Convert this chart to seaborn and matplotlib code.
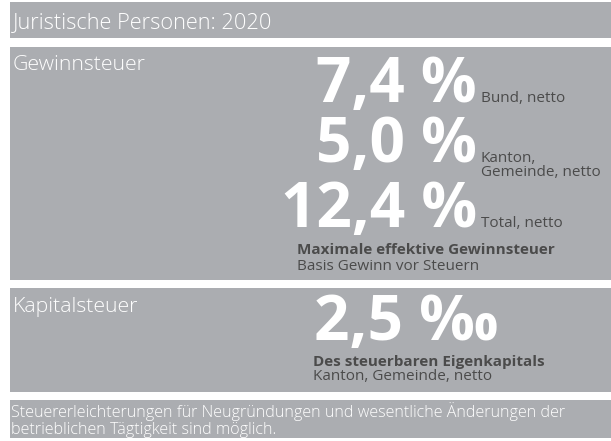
import matplotlib
matplotlib.use("Agg")
import matplotlib.pyplot as plt
from matplotlib.patches import Rectangle
import seaborn as sns

# ---- data ----
title = "Juristische Personen: 2020"
section_names = ["Gewinnsteuer", "Kapitalsteuer"]
profit_values = [7.4, 5.0, 12.4]
profit_labels = ["Bund, netto", "Kanton,\nGemeinde, netto", "Total, netto"]
profit_note_bold = "Maximale effektive Gewinnsteuer"
profit_note = "Basis Gewinn vor Steuern"
capital_value = 2.5
capital_unit = "‰"
capital_note_bold = "Des steuerbaren Eigenkapitals"
capital_note = "Kanton, Gemeinde, netto"
footer = ("Steuererleichterungen für Neugründungen und wesentliche Änderungen der\n"
          "betrieblichen Tägtigkeit sind möglich.")

sns.set_theme(style="white")
plt.rcParams['font.family'] = ['Open Sans', 'DejaVu Sans']

GREY = "#abadb1"
DARK = "#4b4b4b"
W, H = 611, 441

fig = plt.figure(figsize=(W / 100, H / 100), dpi=100)
fig.patch.set_facecolor("white")
ax = fig.add_axes([0, 0, 1, 1])
ax.set_xlim(0, W)
ax.set_ylim(H, 0)
ax.axis("off")

def px(p):
    return p * 0.72

panels = [(2, 38), (47, 280), (288, 392), (400, 438)]
for y0, y1 in panels:
    ax.add_patch(Rectangle((10, y0), W - 10, y1 - y0, facecolor=GREY, edgecolor="none"))

def fmt(v):
    return f"{v:.1f}".replace(".", ",")

SMALL = 15.2
BIG = 62

# title
ax.text(13, 28, title, color="white", fontsize=px(21.8), va="baseline", ha="left",
        fontweight="light")

# Gewinnsteuer
ax.text(13, 70, section_names[0], color="white", fontsize=px(21.3), va="baseline", ha="left",
        fontweight="light")
baselines = [102, 162, 227]
label_baselines = [102, 162, 227]
for v, lab, b, lb in zip(profit_values, profit_labels, baselines, label_baselines):
    ax.text(477, b, f"{fmt(v)} %", color="white", fontsize=px(BIG), fontweight="bold",
            va="baseline", ha="right")
    if "\n" in lab:
        l1, l2 = lab.split("\n")
        ax.text(481, lb, l1, color=DARK, fontsize=px(SMALL), va="baseline", ha="left")
        ax.text(481, lb + 14, l2, color=DARK, fontsize=px(SMALL), va="baseline", ha="left")
    else:
        ax.text(481, lb, lab, color=DARK, fontsize=px(SMALL), va="baseline", ha="left")
ax.text(297, 254, profit_note_bold, color=DARK, fontsize=px(SMALL), fontweight="bold",
        va="baseline", ha="left")
ax.text(297, 270, profit_note, color=DARK, fontsize=px(SMALL), va="baseline", ha="left")

# Kapitalsteuer
ax.text(13, 312, section_names[1], color="white", fontsize=px(21.3), va="baseline", ha="left",
        fontweight="light")
ax.text(314, 340, f"{fmt(capital_value)} {capital_unit}", color="white", fontsize=px(BIG),
        fontweight="bold", va="baseline", ha="left")
ax.text(313, 366, capital_note_bold, color=DARK, fontsize=px(SMALL), fontweight="bold",
        va="baseline", ha="left")
ax.text(313, 380, capital_note, color=DARK, fontsize=px(SMALL), va="baseline", ha="left")

# footer
l1, l2 = footer.split("\n")
ax.text(11, 417, l1, color="white", fontsize=px(16.1), va="baseline", ha="left",
        fontweight="light")
ax.text(11, 434, l2, color="white", fontsize=px(16.1), va="baseline", ha="left",
        fontweight="light")

fig.savefig("out.png", dpi=100, facecolor="white")
